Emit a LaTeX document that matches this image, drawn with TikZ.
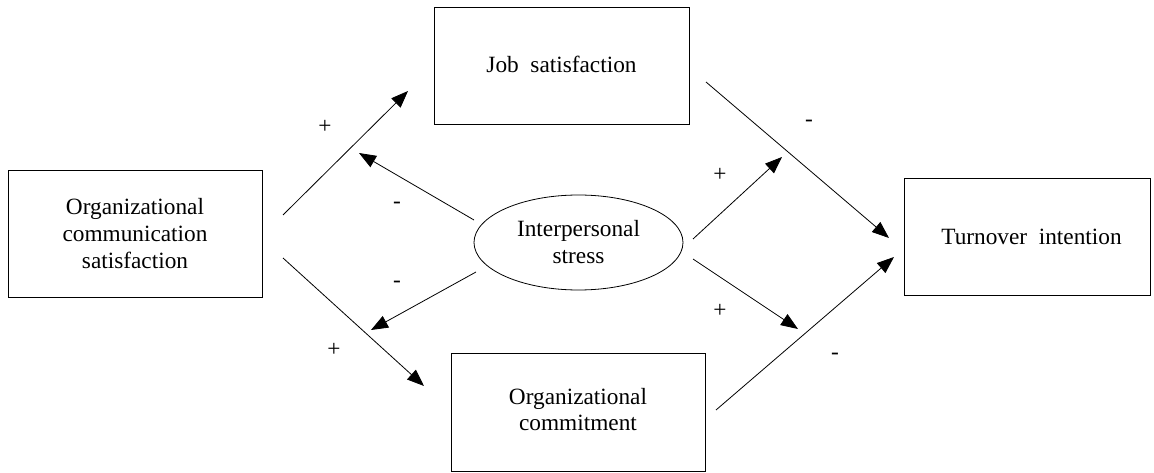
\documentclass[tikz,border=0pt]{standalone}
\usepackage{fontspec}
\setmainfont{Liberation Serif}
\usetikzlibrary{arrows.meta,shapes.geometric}
\begin{document}
\begin{tikzpicture}[x=1pt,y=-1pt,
  txt/.style={font=\fontsize{23.3}{27}\selectfont},
  box/.style={txt, draw, line width=0.9pt, rectangle, inner sep=0pt, align=center},
  oval/.style={txt, draw, line width=0.8pt, ellipse, inner sep=0pt, align=center},
  conn/.style={line width=0.8pt, -{Triangle[length=17pt,width=13pt]}},
  sign/.style={txt, inner sep=0pt}
]
\useasboundingbox (0,0) rectangle (1154,473);

\node[box, minimum width=254pt, minimum height=127pt] (ocs) at (135,233.5)
  {Organizational\\communication\\satisfaction};
\node[box, minimum width=255pt, minimum height=117pt] (js) at (561.5,65.5)
  {\raisebox{2pt}{Job~ satisfaction}};
\node[box, minimum width=246pt, minimum height=117pt] (ti) at (1027,236.5)
  {\hspace{9pt}Turnover~ intention};
\node[box, minimum width=254pt, minimum height=118pt] (oc) at (578,412)
  {\raisebox{13pt}{\begin{tabular}{@{}c@{}}Organizational\\[-0.5pt]commitment\end{tabular}}};
\node[oval, minimum width=209pt, minimum height=95pt] (st) at (578.5,242.5)
  {Interpersonal\\stress};

% connector end points
\coordinate (a1) at (283,215);  \coordinate (b1) at (408,91);
\coordinate (a2) at (474,220);  \coordinate (b2) at (359,153);
\coordinate (a3) at (476,272);  \coordinate (b3) at (371,330);
\coordinate (a4) at (283,258);  \coordinate (b4) at (424,386);
\coordinate (a5) at (706,82);   \coordinate (b5) at (889,238);
\coordinate (a6) at (693,239);  \coordinate (b6) at (782,157);
\coordinate (a7) at (693,259);  \coordinate (b7) at (798,329);
\coordinate (a8) at (716,410);  \coordinate (b8) at (894,257);

\draw[conn] (a1) -- (b1);
\draw[conn] (a2) -- (b2);
\draw[conn] (a3) -- (b3);
\draw[conn] (a4) -- (b4);
\draw[conn] (a5) -- (b5);
\draw[conn] (a6) -- (b6);
\draw[conn] (a7) -- (b7);
\draw[conn] (a8) -- (b8);

\node[sign] (s1) at (325,127) {+};
\node[sign] (s2) at (397,205) {-};
\node[sign] (s3) at (397,284) {-};
\node[sign] (s4) at (334,350) {+};
\node[sign] (s5) at (809,123) {-};
\node[sign] (s6) at (720,175) {+};
\node[sign] (s7) at (720,311) {+};
\node[sign] (s8) at (835,356) {-};
\end{tikzpicture}
\end{document}
